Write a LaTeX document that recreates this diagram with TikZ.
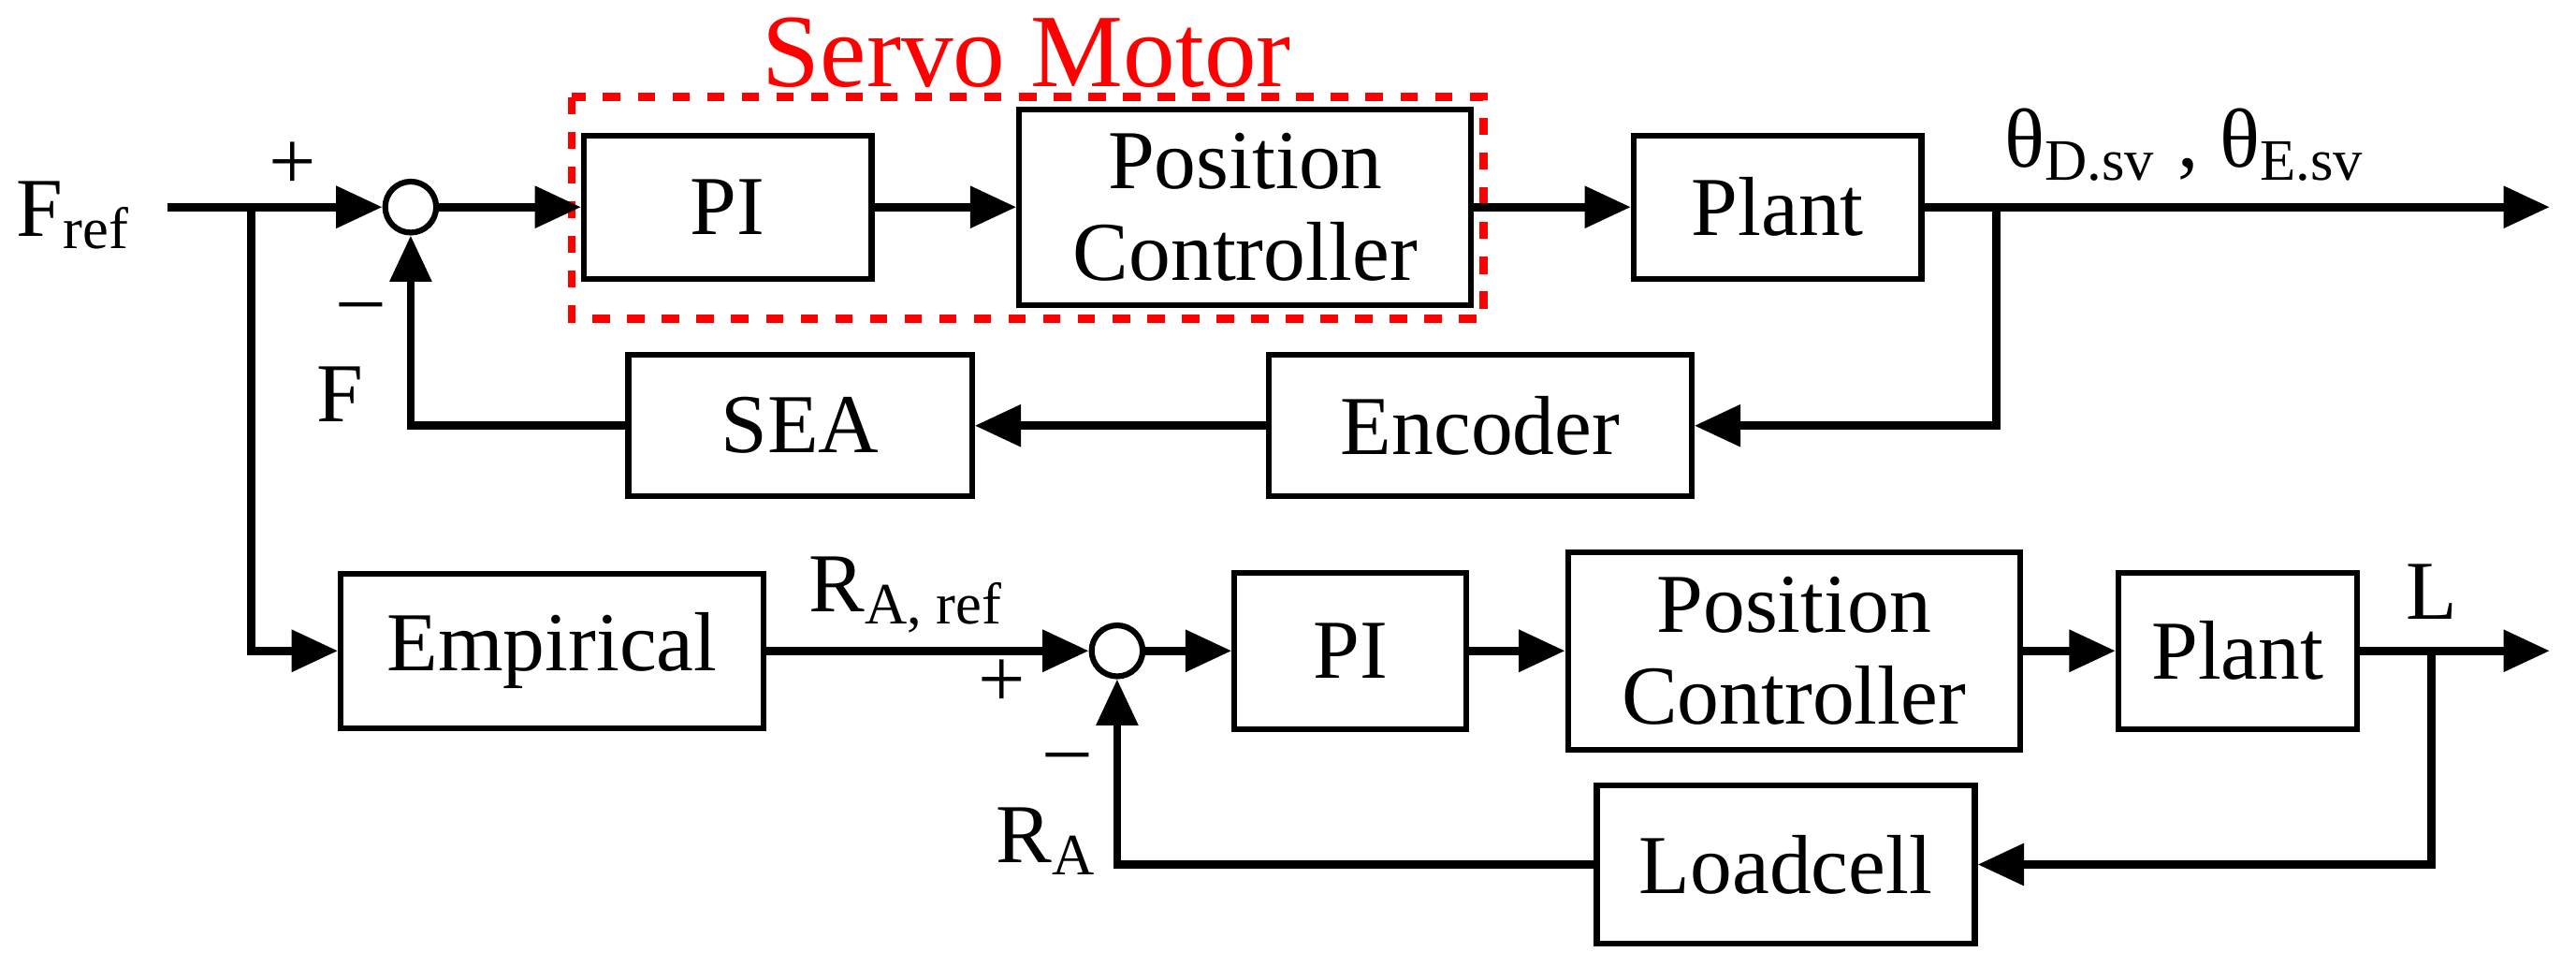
\documentclass[tikz,border=0pt]{standalone}
\usepackage{fontspec}
\setmainfont{Liberation Serif}
\usetikzlibrary{arrows.meta}

\begin{document}
\begin{tikzpicture}[x=0.01cm, y=-0.01cm, font=\fontsize{14.5}{16}\selectfont,
    blk/.style={draw, line width=1pt, minimum height=0.87cm, align=center},
    sum/.style={draw, circle, line width=1pt, minimum size=0.31cm, inner sep=0pt},
    sig/.style={line width=1.4pt, -{Triangle[length=8pt,width=7pt]}},
    wire/.style={line width=1.4pt}]
  \useasboundingbox (0,0) rectangle (1568,588);
  % top loop
  \node (Fref) at (45,131) {F\textsubscript{ref}};
  \coordinate (B1) at (153,126);
  \node[sum] (S1) at (250,126) {};
  \node[blk, minimum width=1.75cm] (PI1) at (443,126) {PI};
  \node[blk, minimum width=2.75cm, minimum height=1.19cm] (PC1) at (758,126) {Position\\Controller};
  \node[blk, minimum width=1.75cm] (P1) at (1082,126) {Plant};
  \node[blk, minimum width=2.57cm, minimum height=0.86cm] (Enc) at (901,259) {Encoder};
  \node[blk, minimum width=2.09cm, minimum height=0.86cm] (SEA) at (487,259) {SEA};
  \coordinate (B2) at (1215,126);
  \coordinate (Out1) at (1552,126);
  \draw[red, dashed, line width=1.4pt] (348,59) rectangle (903,194);
  \node[red, font=\fontsize{18}{20}\selectfont] at (625,32) {Servo Motor};
  \draw[wire] (102,126) -- (B1);
  \draw[sig] (B1) -- (S1);
  \draw[sig] (S1) -- (PI1);
  \draw[sig] (PI1) -- (PC1);
  \draw[sig] (PC1) -- (P1);
  \draw[sig] (P1) -- (Out1);
  \draw[sig] (B2) |- (Enc);
  \draw[sig] (Enc) -- (SEA);
  \draw[sig] (SEA) -| (S1);
  \node at (178,101) {+};
  \node at (220,191) {--};
  \node at (207,240) {F};
  \node at (1330,88) {θ\textsubscript{D.sv} , θ\textsubscript{E.sv}};
  % bottom loop
  \node[blk, minimum width=2.57cm, minimum height=0.94cm] (Emp) at (336,396) {Empirical};
  \node[sum] (S2) at (680,396) {};
  \node[blk, minimum width=1.41cm, minimum height=0.95cm] (PI2) at (822,396) {PI};
  \node[blk, minimum width=2.75cm, minimum height=1.2cm] (PC2) at (1092,396) {Position\\Controller};
  \node[blk, minimum width=1.45cm, minimum height=0.95cm] (P2) at (1362,396) {Plant};
  \node[blk, minimum width=2.3cm, minimum height=0.96cm] (LC) at (1087,526) {Loadcell};
  \coordinate (B3) at (1480,396);
  \coordinate (Out2) at (1552,396);
  \draw[sig] (B1) |- (Emp);
  \draw[sig] (Emp) -- (S2);
  \draw[sig] (S2) -- (PI2);
  \draw[sig] (PI2) -- (PC2);
  \draw[sig] (PC2) -- (P2);
  \draw[sig] (P2) -- (Out2);
  \draw[sig] (B3) |- (LC);
  \draw[sig] (LC) -| (S2);
  \node at (552,362) {R\textsubscript{A, ref}};
  \node at (610,416) {+};
  \node at (650,465) {--};
  \node at (637,512) {R\textsubscript{A}};
  \node at (1480,360) {L};
\end{tikzpicture}
\end{document}
